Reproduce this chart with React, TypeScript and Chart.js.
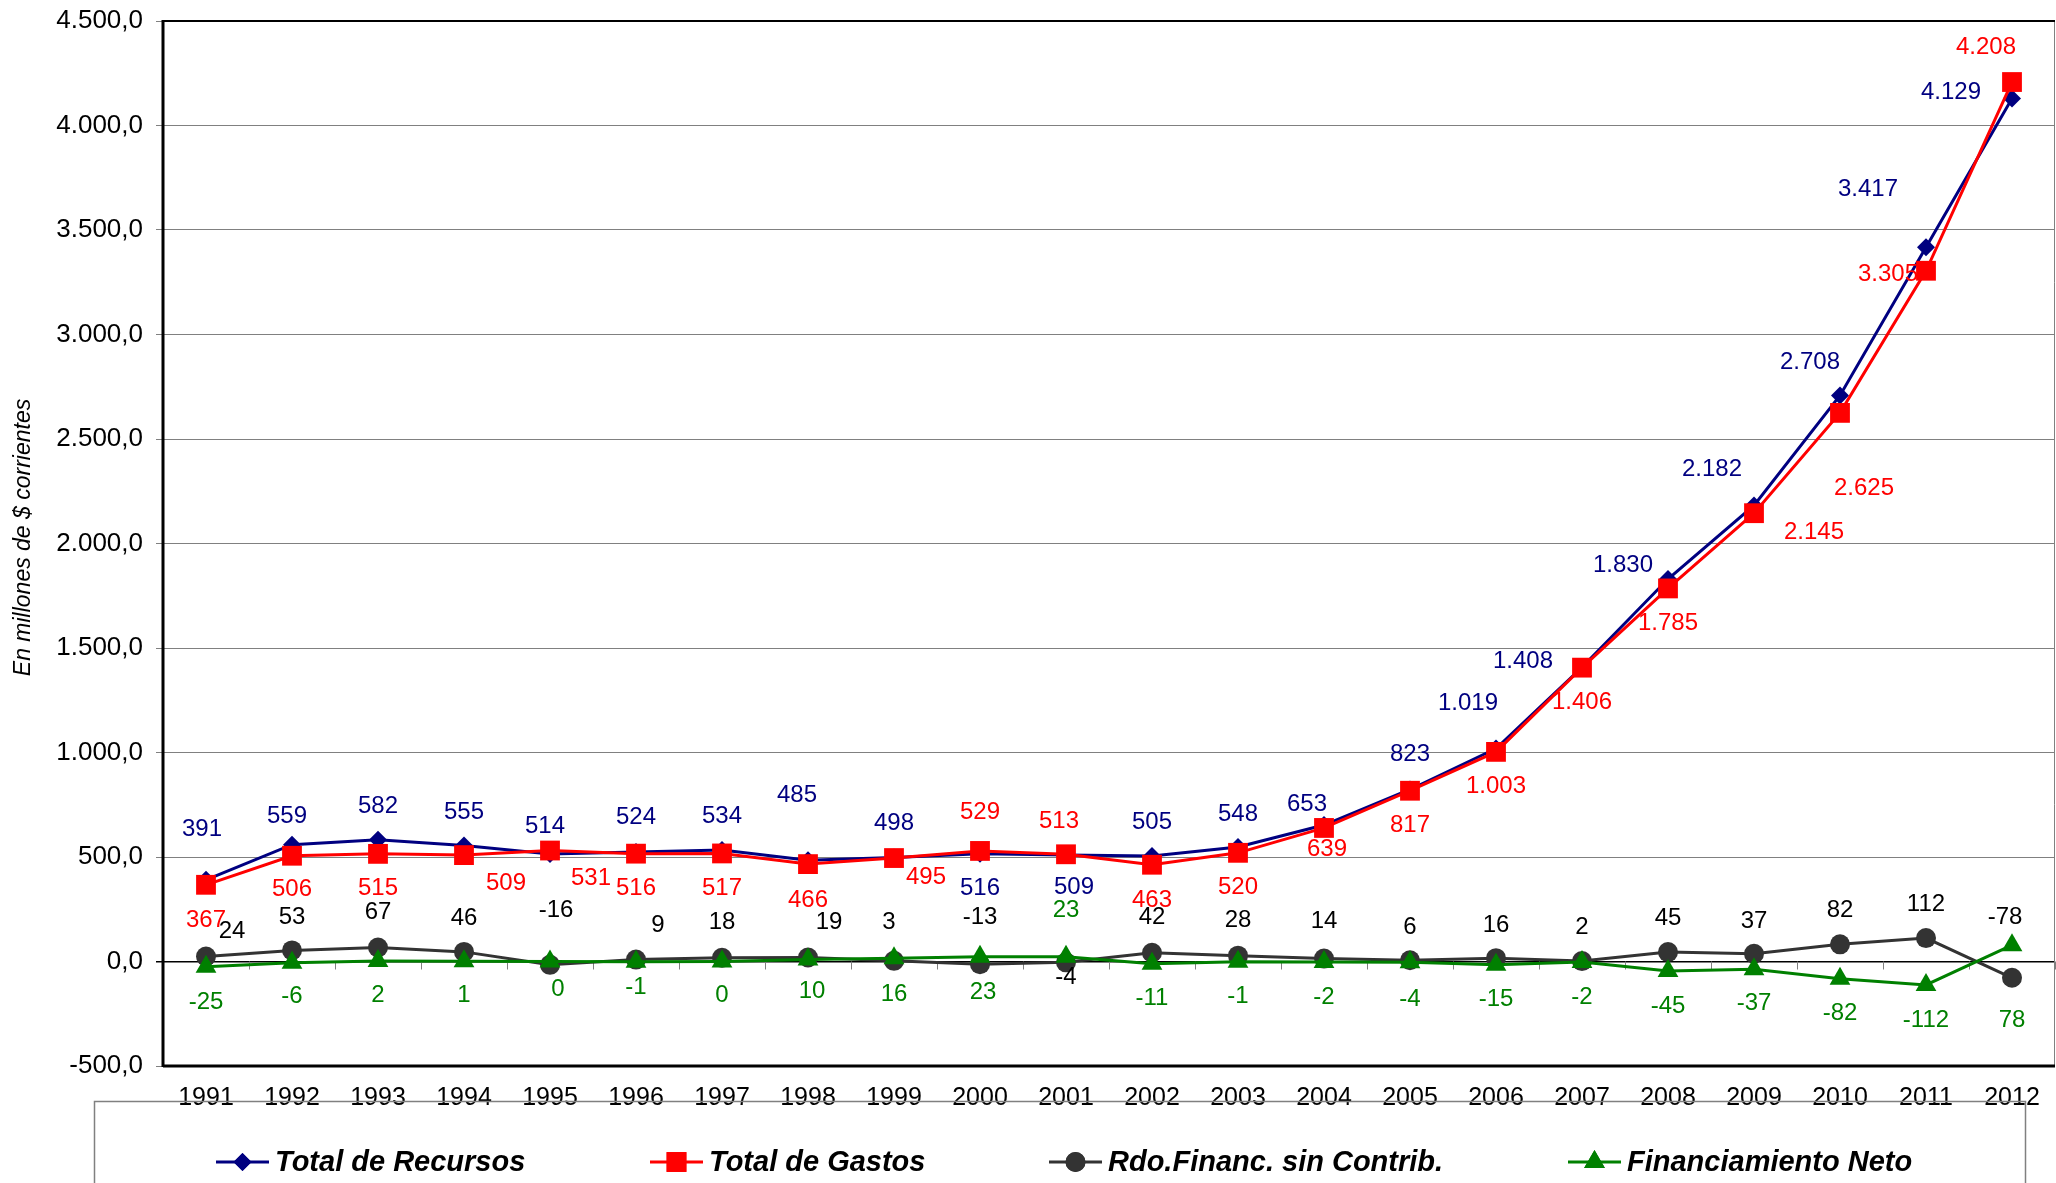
import React, { useEffect, useRef } from 'react';
import { Chart, registerables } from 'chart.js';
import { drawPoint } from 'chart.js/helpers';

Chart.register(...registerables);

const years = ['1991','1992','1993','1994','1995','1996','1997','1998','1999','2000','2001','2002','2003','2004','2005','2006','2007','2008','2009','2010','2011','2012'];
const totalRecursos = [391,559,582,555,514,524,534,485,498,516,509,505,548,653,823,1019,1408,1830,2182,2708,3417,4129];
const totalGastos = [367,506,515,509,531,516,517,466,495,529,513,463,520,639,817,1003,1406,1785,2145,2625,3305,4208];
const rdoFinanc = [24,53,67,46,-16,9,18,19,3,-13,-4,42,28,14,6,16,2,45,37,82,112,-78];
const financNeto = [-25,-6,2,1,0,-1,0,10,16,23,23,-11,-1,-2,-4,-15,-2,-45,-37,-82,-112,78];
const seriesNames = ['Total de Recursos', 'Total de Gastos', 'Rdo.Financ. sin Contrib.', 'Financiamiento Neto'];
const yMin = -500;
const yMax = 4500;
const yStep = 500;
const yTitle = 'En millones de $ corrientes';

// label placement offsets (pixels) — style only
const offRecursos: [number, number][] = [[-4,-50],[-5,-28],[0,-33],[0,-33],[-5,-28],[0,-35],[0,-34],[-11,-65],[0,-34],[0,35],[8,32],[0,-34],[0,-33],[-17,-21],[0,-35],[-28,-45],[-59,-6],[-45,-14],[-42,-36],[-30,-33],[-58,-58],[-61,-6]];
const offGastos: [number, number][] = [[0,36],[0,34],[0,35],[42,28],[41,28],[0,35],[0,35],[0,36],[32,19],[0,-39],[-7,-33],[0,36],[0,35],[3,21],[0,35],[0,35],[0,35],[0,35],[60,19],[24,75],[-38,4],[-26,-35]];
const offRdo: [number, number][] = [[26,-25],[0,-33],[0,-35],[0,-34],[6,-54],[22,-34],[0,-35],[21,-35],[-5,-38],[0,-47],[0,15],[0,-35],[0,-35],[0,-37],[0,-33],[0,-33],[0,-34],[0,-34],[0,-32],[0,-34],[0,-34],[-7,-60]];
const offNeto: [number, number][] = [[0,36],[0,34],[0,34],[0,34],[8,28],[0,26],[0,34],[4,32],[0,36],[3,36],[0,-46],[0,35],[0,35],[0,35],[0,37],[0,35],[0,35],[0,35],[0,34],[0,35],[0,35],[0,75]];
const labelOffsets = [offRecursos, offGastos, offRdo, offNeto];

const colors = ['#000080', '#FF0000', '#333333', '#008000'];
const labelColors = ['#000080', '#FF0000', '#000000', '#008000'];
const styles = ['rectRot', 'rect', 'circle', 'triangle'];
const radii = [9, 14, 10, 12];
const FONT = '"Liberation Sans", Arial, sans-serif';

function groupThousands(n: number): string {
  const s = Math.abs(Math.round(n)).toString();
  let out = '';
  for (let i = 0; i < s.length; i++) {
    if (i > 0 && (s.length - i) % 3 === 0) out += '.';
    out += s[i];
  }
  return (n < 0 ? '-' : '') + out;
}

const customPlugin = {
  id: 'customDraw',
  beforeDatasetsDraw(chart: any) {
    const { ctx, chartArea } = chart;
    const { left, right, top, bottom } = chartArea;
    const ys = chart.scales.y;
    const y0 = ys.getPixelForValue(0);
    ctx.save();
    const n = years.length;
    const w = (right - left) / n;
    ctx.strokeStyle = '#808080';
    ctx.lineWidth = 1;
    for (let k = 0; k <= n; k++) {
      const x = Math.round(left + k * w) + 0.5;
      ctx.beginPath();
      ctx.moveTo(x, y0);
      ctx.lineTo(x, y0 + 8);
      ctx.stroke();
    }
    ctx.strokeStyle = '#808080';
    ctx.lineWidth = 1;
    ctx.beginPath();
    ctx.moveTo(right - 0.5, top);
    ctx.lineTo(right - 0.5, bottom);
    ctx.stroke();
    ctx.strokeStyle = '#000000';
    ctx.lineWidth = 2;
    ctx.beginPath();
    ctx.moveTo(left, top);
    ctx.lineTo(right, top);
    ctx.stroke();
    ctx.lineWidth = 3;
    ctx.beginPath();
    ctx.moveTo(left, bottom);
    ctx.lineTo(right, bottom);
    ctx.stroke();
    ctx.beginPath();
    ctx.moveTo(left, top - 1);
    ctx.lineTo(left, bottom + 1);
    ctx.stroke();
    ctx.restore();
  },
  afterDatasetsDraw(chart: any) {
    const { ctx } = chart;
    ctx.save();
    ctx.font = `24px ${FONT}`;
    ctx.textAlign = 'center';
    ctx.textBaseline = 'middle';
    chart.data.datasets.forEach((ds: any, i: number) => {
      const meta = chart.getDatasetMeta(i);
      const offs = labelOffsets[i];
      ctx.fillStyle = labelColors[i];
      meta.data.forEach((pt: any, j: number) => {
        ctx.fillText(groupThousands(ds.data[j]), pt.x + offs[j][0], pt.y + offs[j][1]);
      });
    });
    ctx.restore();
  },
  afterDraw(chart: any) {
    const { ctx, chartArea } = chart;
    ctx.save();
    ctx.translate(24, (chartArea.top + chartArea.bottom) / 2 - 6);
    ctx.rotate(-Math.PI / 2);
    ctx.font = `italic 23px ${FONT}`;
    ctx.fillStyle = '#000';
    ctx.textAlign = 'center';
    ctx.textBaseline = 'middle';
    ctx.fillText(yTitle, 0, 0);
    ctx.restore();

    ctx.save();
    ctx.strokeStyle = '#808080';
    ctx.lineWidth = 1.5;
    ctx.strokeRect(94.5, 1101.5, 1931, 120);
    const ly = 1162;
    const lineStarts = [216, 650, 1049, 1568];
    ctx.font = `bold italic 29px ${FONT}`;
    ctx.textBaseline = 'middle';
    ctx.textAlign = 'left';
    for (let i = 0; i < 4; i++) {
      const x0 = lineStarts[i];
      ctx.strokeStyle = colors[i];
      ctx.lineWidth = 3;
      ctx.beginPath();
      ctx.moveTo(x0, ly);
      ctx.lineTo(x0 + 53, ly);
      ctx.stroke();
      ctx.fillStyle = colors[i];
      drawPoint(ctx, { pointStyle: styles[i] as any, radius: radii[i], rotation: 0, borderWidth: 0 } as any, x0 + 26.5, ly);
      ctx.fill();
      ctx.fillStyle = '#000';
      ctx.fillText(seriesNames[i], x0 + 59, ly + 1);
    }
    ctx.restore();
  },
};

export default function App() {
  const ref = useRef<HTMLCanvasElement | null>(null);
  useEffect(() => {
    document.body.style.margin = '0';
    document.body.style.overflow = 'hidden';
    const canvas = ref.current!;
    const seriesData = [totalRecursos, totalGastos, rdoFinanc, financNeto];
    const orders = [4, 3, 2, 1];
    const chart = new Chart(canvas, {
      type: 'line',
      data: {
        labels: years,
        datasets: seriesData.map((d, i) => ({
          label: seriesNames[i],
          data: d,
          borderColor: colors[i],
          backgroundColor: colors[i],
          pointBackgroundColor: colors[i],
          pointBorderColor: colors[i],
          pointBorderWidth: 0,
          borderWidth: 3,
          pointStyle: styles[i] as any,
          pointRadius: radii[i],
          pointHoverRadius: radii[i],
          tension: 0,
          fill: false,
          order: orders[i],
          clip: false as any,
        })),
      },
      options: {
        responsive: false,
        animation: false,
        devicePixelRatio: 1,
        layout: { autoPadding: false, padding: { top: 21, right: 1, left: 0, bottom: 0 } },
        plugins: {
          legend: { display: false },
          tooltip: { enabled: false },
          title: { display: false },
        },
        scales: {
          x: {
            type: 'category',
            offset: true,
            grid: { display: false, drawTicks: false },
            border: { display: false },
            ticks: {
              color: '#000',
              font: { family: FONT, size: 25 },
              padding: 17,
              maxRotation: 0,
              autoSkip: false,
            },
            afterFit: (scale: any) => {
              scale.height = 117;
              scale.paddingLeft = 0;
              scale.paddingRight = 0;
            },
          },
          y: {
            min: yMin,
            max: yMax,
            border: { display: false },
            grid: {
              color: (c: any) => (c.tick && c.tick.value === 0 ? '#000000' : '#808080'),
              lineWidth: (c: any) => (c.tick && c.tick.value === 0 ? 1.5 : 1),
              drawTicks: true,
              tickLength: 7,
            },
            ticks: {
              stepSize: yStep,
              color: '#000',
              font: { family: FONT, size: 26 },
              padding: 13,
              callback: (v: any) => `${groupThousands(Number(v))},0`,
            },
            afterFit: (scale: any) => {
              scale.width = 163;
              scale.paddingTop = 0;
              scale.paddingBottom = 0;
            },
          },
        },
      },
      plugins: [customPlugin],
    });
    return () => chart.destroy();
  }, []);
  return <canvas ref={ref} width={2056} height={1183} style={{ display: 'block', width: 2056, height: 1183 }} />;
}
